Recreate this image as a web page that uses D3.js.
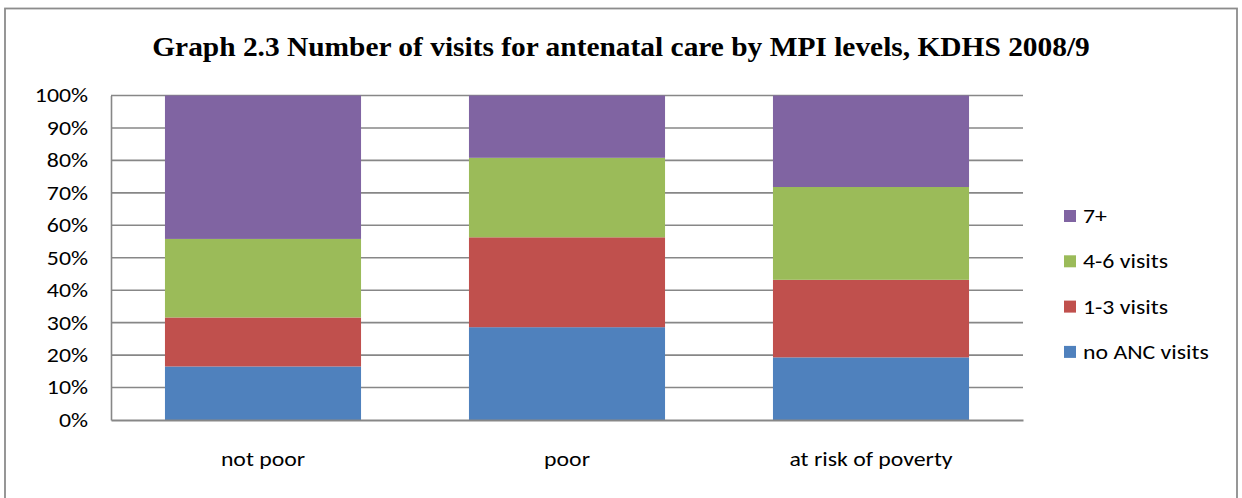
<!DOCTYPE html>
<html>
<head>
<meta charset="utf-8">
<script src="https://cdn.jsdelivr.net/npm/d3@7"></script>
<style>
  html, body { margin: 0; padding: 0; background: #fff; }
  svg { display: block; }
</style>
</head>
<body>
<svg id="chart" width="1242" height="498"></svg>
<script>
// Antenatal care visits by MPI level (percent of women, stacked to 100%)
const categories = ["not poor", "poor", "at risk of poverty"];
const seriesNames = ["no ANC visits", "1-3 visits", "4-6 visits", "7+"];
const noAncVisits = [16.5, 28.6, 19.3];
const visits1to3  = [15.1, 27.7, 23.9];
const visits4to6  = [24.2, 24.5, 28.6];
const visits7plus = [44.2, 19.2, 28.2];
const seriesColors = ["#4F81BD", "#C0504D", "#9BBB59", "#8064A2"];
const yTicks = [0, 10, 20, 30, 40, 50, 60, 70, 80, 90, 100];
const titleText = "Graph 2.3 Number of visits for antenatal care by MPI levels, KDHS 2008/9";

const seriesValues = [noAncVisits, visits1to3, visits4to6, visits7plus];
const rows = categories.map((c, i) => {
  const r = { category: c };
  seriesNames.forEach((s, j) => { r[s] = seriesValues[j][i]; });
  return r;
});

const svg = d3.select("#chart");
const W = 1242, H = 498;
const plot = { left: 111, right: 1023, top: 95.5, bottom: 420 };
const labelFont = "Carlito, Calibri, Lato, 'Open Sans', sans-serif";
const labelSize = 20;
const labelStretch = 1.19;   // text is drawn slightly widened
const titleStretch = 1.11;

// outer frame
svg.append("rect")
  .attr("x", 5).attr("y", 8.5)
  .attr("width", 1232).attr("height", 500)
  .attr("fill", "#fff")
  .attr("stroke", "#8c8c8c").attr("stroke-width", 1.8);

// title
svg.append("text")
  .attr("transform", `translate(${W / 2},56) scale(${titleStretch},1)`)
  .attr("text-anchor", "middle")
  .attr("font-family", "'Liberation Serif', 'Times New Roman', serif")
  .attr("font-weight", "bold")
  .attr("font-size", 26.5)
  .attr("fill", "#000")
  .text(titleText);

const x = d3.scaleBand()
  .domain(categories)
  .range([plot.left, plot.right])
  .paddingInner(0.355)
  .paddingOuter(0.1775);

const y = d3.scaleLinear()
  .domain([0, 100])
  .range([plot.bottom, plot.top]);

// gridlines
svg.append("g")
  .selectAll("line")
  .data(yTicks.filter(t => t > 0))
  .join("line")
  .attr("x1", plot.left).attr("x2", plot.right)
  .attr("y1", d => y(d)).attr("y2", d => y(d))
  .attr("stroke", "#878787").attr("stroke-width", 1.6);

// stacked bars
const stack = d3.stack().keys(seriesNames);
const layers = stack(rows);
svg.append("g")
  .selectAll("g")
  .data(layers)
  .join("g")
  .attr("fill", (d, i) => seriesColors[i])
  .selectAll("rect")
  .data(d => d)
  .join("rect")
  .attr("x", d => x(d.data.category))
  .attr("width", x.bandwidth())
  .attr("y", d => y(d[1]))
  .attr("height", d => y(d[0]) - y(d[1]));

// axes
const yAxis = d3.axisLeft(y)
  .tickValues(yTicks)
  .tickSize(0)
  .tickPadding(23)
  .tickFormat(d => d + "%");
const gy = svg.append("g")
  .attr("transform", `translate(${plot.left},0)`)
  .call(yAxis);
gy.select(".domain").attr("stroke", "#878787").attr("stroke-width", 1.6);
gy.selectAll("text")
  .attr("x", 0)
  .attr("transform", `translate(-23,0) scale(${labelStretch},1)`)
  .attr("font-family", labelFont)
  .attr("font-size", labelSize)
  .attr("fill", "#000");

const xAxis = d3.axisBottom(x).tickSize(0).tickPadding(32);
const gx = svg.append("g")
  .attr("transform", `translate(0,${plot.bottom})`)
  .call(xAxis);
gx.select(".domain").attr("stroke", "#878787").attr("stroke-width", 1.8);
gx.selectAll("text")
  .attr("transform", `scale(${labelStretch},1)`)
  .attr("font-family", labelFont)
  .attr("font-size", labelSize)
  .attr("fill", "#000");

// legend (top to bottom: 7+, 4-6, 1-3, none)
const legendOrder = seriesNames.map((s, i) => ({ name: s, color: seriesColors[i] })).reverse();
const legend = svg.append("g")
  .selectAll("g")
  .data(legendOrder)
  .join("g")
  .attr("transform", (d, i) => `translate(1064,${216 + i * 45.3})`);
legend.append("rect")
  .attr("x", 0).attr("y", -6)
  .attr("width", 12).attr("height", 12)
  .attr("fill", d => d.color);
legend.append("text")
  .attr("transform", `translate(19,0) scale(${labelStretch},1)`)
  .attr("dy", "0.35em")
  .attr("font-family", labelFont)
  .attr("font-size", labelSize)
  .attr("fill", "#000")
  .text(d => d.name);
</script>
</body>
</html>
